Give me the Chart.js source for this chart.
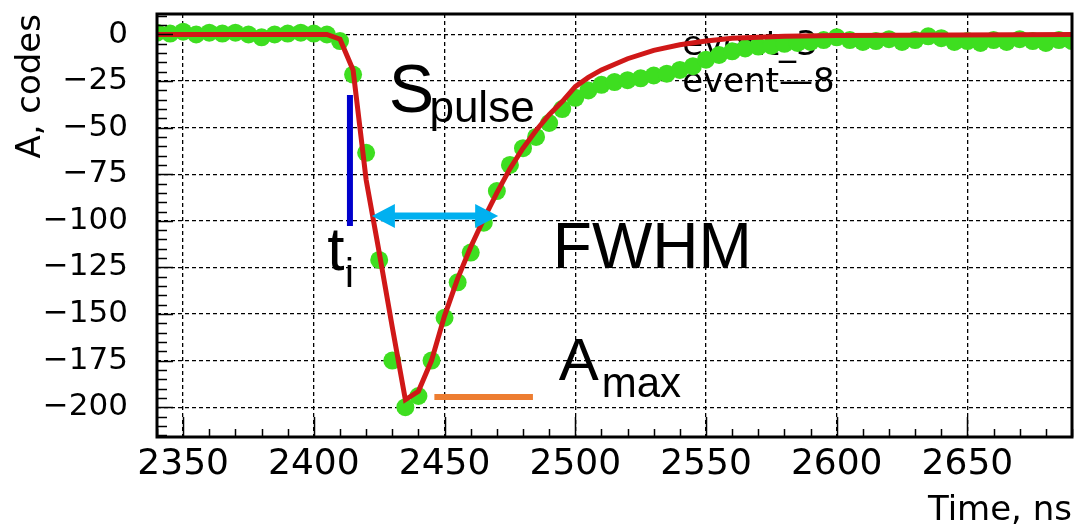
<!DOCTYPE html>
<html>
<head>
<meta charset="utf-8">
<script src="https://cdn.jsdelivr.net/npm/chart.js@4.4.1/dist/chart.umd.min.js"></script>
<style>
    html, body { margin: 0; padding: 0; background: #fff; }
    #pulse { display: block; }
</style>
</head>
<body>
<canvas id="pulse" width="1081" height="528"></canvas>
<script>
// sampled event (green markers), 5 ns steps
const times = [2340, 2345, 2350, 2355, 2360, 2365, 2370, 2375, 2380, 2385, 2390, 2395, 2400, 2405,
    2410, 2415, 2420, 2425, 2430, 2435, 2440, 2445, 2450, 2455, 2460, 2465, 2470, 2475, 2480, 2485,
    2490, 2495, 2500, 2505, 2510, 2515, 2520, 2525, 2530, 2535, 2540, 2545, 2550, 2555, 2560, 2565,
    2570, 2575, 2580, 2585, 2590, 2595, 2600, 2605, 2610, 2615, 2620, 2625, 2630, 2635, 2640, 2645,
    2650, 2655, 2660, 2665, 2670, 2675, 2680, 2685, 2690];
const amplitudes = [1, 0.5, 1.5, 0, 1, 0.5, 1, 0, -1.5, 0, 0.5, 1, 0.5, 0,
    -3.5, -21.5, -63.5, -121, -175, -200, -194, -175, -152, -133, -117, -101, -84, -70, -61, -55,
    -47.5, -40, -34, -30, -27, -25.5, -24.5, -23.5, -22, -21, -19, -17, -13.5, -11, -9, -7.5,
    -6.5, -6, -5, -4.5, -4, -3, -1.5, -3, -4, -3.5, -2.5, -4, -3, -1, -2, -4,
    -3.5, -4.5, -3, -4, -2.5, -3.5, -4.5, -3, -3.5];

// fitted pulse shape (red line)
const fitTimes = [2340, 2405, 2410, 2415, 2420, 2425, 2430, 2435, 2440, 2445, 2450, 2455, 2460, 2465,
    2470, 2475, 2480, 2485, 2490, 2495, 2500, 2505, 2510, 2520, 2530, 2540, 2550, 2560, 2570, 2580,
    2600, 2690];
const fitValues = [0, 0, -2.5, -19, -78, -117, -157, -196, -191.5, -175, -151, -131, -114, -99,
    -85, -72, -61, -51.5, -43, -36, -28, -23, -19, -13, -8.5, -5.5, -3.5, -2, -1.5, -1,
    -0.5, 0];

const xTicks = [2350, 2400, 2450, 2500, 2550, 2600, 2650];
const yTicks = [0, -25, -50, -75, -100, -125, -150, -175, -200];

// markers drawn on top of the pulse
const riseTimes = [2413.8, 2413.8];
const riseValues = [-32.5, -102.8];
const fwhmTimes = [2422.2, 2470.5];
const fwhmValue = -97.4;
const maxTimes = [2446.1, 2483.8];
const maxValues = [-194.5, -194.5];

const toPoints = (xs, ys) => xs.map((t, i) => ({x: t, y: ys[i]}));

function drawLabel(ctx, text, size, px, py) {
    ctx.font = size + "px 'Liberation Sans', Arial, sans-serif";
    ctx.fillText(text, px, py);
}

// chart.js reserves room for the end labels, the frame here must sit at fixed pixels
function noPadding(scale) {
    scale.paddingTop = 0;
    scale.paddingBottom = 0;
    scale.paddingLeft = 0;
    scale.paddingRight = 0;
}

const pulseDecor = {
    id: "pulseDecor",
    beforeDatasetsDraw(chart) {
        const {ctx, chartArea: a, scales: {x, y}} = chart;
        ctx.save();
        ctx.beginPath();
        ctx.rect(a.left, a.top, a.right - a.left, a.bottom - a.top);
        ctx.clip();
        ctx.fillStyle = "#000";
        ctx.textBaseline = "alphabetic";
        ctx.textAlign = "left";
        ctx.font = "34px 'DejaVu Sans', sans-serif";
        ctx.fillText("event_3", x.getPixelForValue(2540.9), y.getPixelForValue(-11));
        ctx.fillText("event\u20148", x.getPixelForValue(2540.9), y.getPixelForValue(-30.9));
        ctx.restore();
    },
    afterDatasetsDraw(chart) {
        const {ctx, scales: {x, y}} = chart;
        ctx.save();

        // FWHM double arrow
        const x0 = x.getPixelForValue(fwhmTimes[0]);
        const x1 = x.getPixelForValue(fwhmTimes[1]);
        const yy = y.getPixelForValue(fwhmValue);
        const head = 23, half = 12;
        ctx.fillStyle = "#00b0f0";
        ctx.strokeStyle = "#00b0f0";
        ctx.lineWidth = 7;
        ctx.beginPath();
        ctx.moveTo(x0 + head - 2, yy);
        ctx.lineTo(x1 - head + 2, yy);
        ctx.stroke();
        ctx.beginPath();
        ctx.moveTo(x0, yy);
        ctx.lineTo(x0 + head, yy - half);
        ctx.lineTo(x0 + head, yy + half);
        ctx.closePath();
        ctx.moveTo(x1, yy);
        ctx.lineTo(x1 - head, yy - half);
        ctx.lineTo(x1 - head, yy + half);
        ctx.closePath();
        ctx.fill();

        ctx.fillStyle = "#000";
        ctx.textAlign = "left";
        ctx.textBaseline = "alphabetic";
        drawLabel(ctx, "S", 68, x.getPixelForValue(2428.6), y.getPixelForValue(-41.6));
        drawLabel(ctx, "pulse", 44, x.getPixelForValue(2444.2), y.getPixelForValue(-47));
        drawLabel(ctx, "t", 62, x.getPixelForValue(2405.1), y.getPixelForValue(-126.4));
        drawLabel(ctx, "i", 40, x.getPixelForValue(2411.9), y.getPixelForValue(-135.5));
        drawLabel(ctx, "FWHM", 64, x.getPixelForValue(2491.4), y.getPixelForValue(-125.3));
        drawLabel(ctx, "A", 60, x.getPixelForValue(2493.7), y.getPixelForValue(-185.4));
        drawLabel(ctx, "max", 42, x.getPixelForValue(2510.1), y.getPixelForValue(-194.5));
        ctx.restore();
    },
    afterDraw(chart) {
        const {ctx, chartArea: a, scales: {x, y}} = chart;
        ctx.save();
        ctx.strokeStyle = "#000";
        ctx.lineWidth = 1.5;
        ctx.beginPath();
        // inward ticks, ROOT style
        for (let v = 2340; v <= 2690; v += 10) {
            const px = Math.round(x.getPixelForValue(v)) + 0.5;
            const len = v % 50 === 0 ? 20 : 8;
            ctx.moveTo(px, a.bottom);
            ctx.lineTo(px, a.bottom - len);
        }
        for (let v = -215; v <= 10; v += 5) {
            const py = Math.round(y.getPixelForValue(v)) + 0.5;
            const len = v % 25 === 0 ? 16 : 10;
            ctx.moveTo(a.left, py);
            ctx.lineTo(a.left + len, py);
        }
        ctx.stroke();
        ctx.lineWidth = 3;
        ctx.strokeRect(a.left, a.top, a.right - a.left, a.bottom - a.top);
        ctx.restore();
    }
};

new Chart("pulse", {
    type: "scatter",
    data: {
        datasets: [{
            data: toPoints(riseTimes, riseValues),
            showLine: true,
            borderColor: "#0000cc",
            borderWidth: 6,
            borderCapStyle: "butt",
            pointRadius: 0,
            order: 0
        }, {
            data: toPoints(maxTimes, maxValues),
            showLine: true,
            borderColor: "#ed7d31",
            borderWidth: 6,
            borderCapStyle: "butt",
            pointRadius: 0,
            order: 0
        }, {
            data: toPoints(fitTimes, fitValues),
            showLine: true,
            borderColor: "#d01818",
            borderWidth: 5,
            tension: 0,
            pointRadius: 0,
            order: 1
        }, {
            data: toPoints(times, amplitudes),
            backgroundColor: "#3ede20",
            borderColor: "#3ede20",
            borderWidth: 0,
            pointRadius: 9,
            order: 2
        }]
    },
    options: {
        responsive: false,
        animation: false,
        events: [],
        layout: {
            padding: {top: 14, right: 4, left: 0, bottom: 0}
        },
        plugins: {
            legend: {display: false},
            tooltip: {enabled: false}
        },
        scales: {
            x: {
                type: "linear",
                min: 2340,
                max: 2690,
                afterBuildTicks: (scale) => { scale.ticks = xTicks.map(v => ({value: v})); },
                afterFit: (scale) => { scale.height = 91; noPadding(scale); },
                ticks: {
                    color: "#000",
                    padding: 6,
                    maxRotation: 0,
                    font: {family: "'DejaVu Sans'", size: 36},
                    callback: (v) => String(v)
                },
                grid: {
                    color: "#000",
                    lineWidth: 1.3,
                    drawTicks: false
                },
                border: {display: false, dash: [4, 3]},
                title: {
                    display: true,
                    text: "Time, ns",
                    align: "end",
                    color: "#000",
                    padding: 0,
                    font: {family: "'DejaVu Sans'", size: 34, lineHeight: 1}
                }
            },
            y: {
                min: -216,
                max: 11,
                afterBuildTicks: (scale) => { scale.ticks = yTicks.map(v => ({value: v})); },
                afterFit: (scale) => { scale.width = 157; noPadding(scale); },
                ticks: {
                    color: "#000",
                    padding: 29,
                    font: {family: "'DejaVu Sans'", size: 31},
                    callback: (v) => v < 0 ? "\u2212" + Math.abs(v) : String(v)
                },
                grid: {
                    color: "#000",
                    lineWidth: 1.3,
                    drawTicks: false
                },
                border: {display: false, dash: [4, 3]},
                title: {
                    display: true,
                    text: "A, codes",
                    align: "end",
                    color: "#000",
                    padding: {top: 14, bottom: 0},
                    font: {family: "'DejaVu Sans'", size: 34, lineHeight: 1}
                }
            }
        }
    },
    plugins: [pulseDecor]
});
</script>
</body>
</html>
